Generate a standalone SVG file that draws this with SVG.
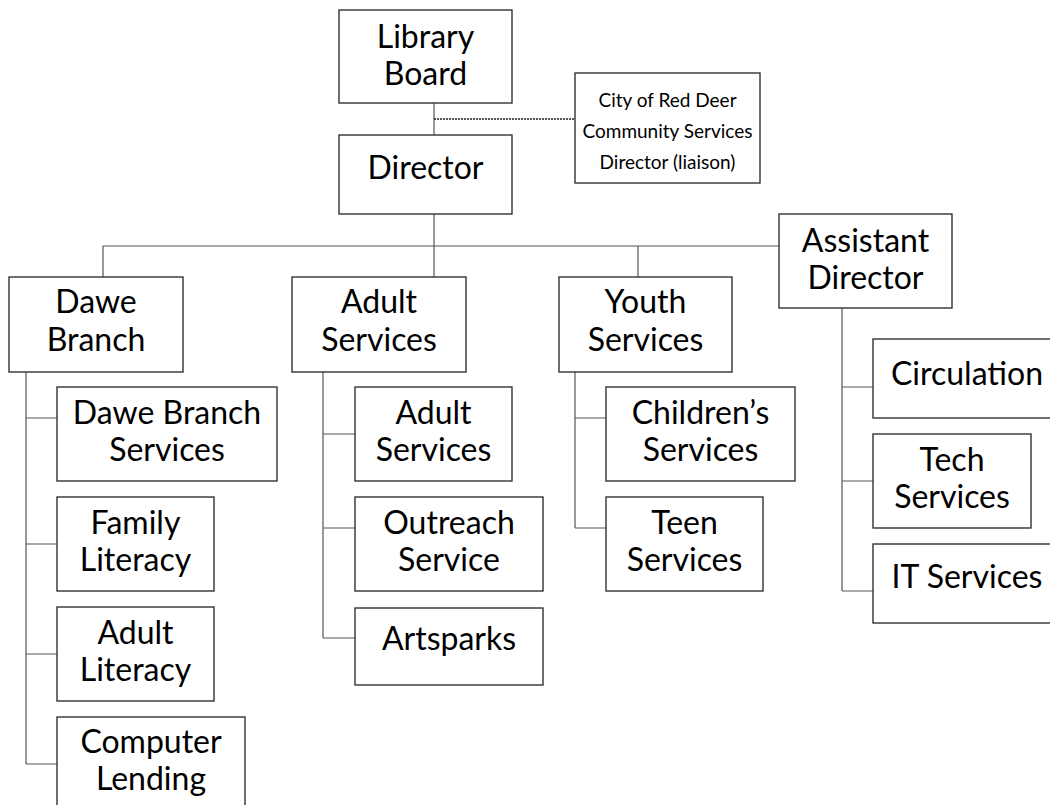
<svg xmlns="http://www.w3.org/2000/svg" width="1050" height="805" viewBox="0 0 1050 805">
<style>
.box{fill:#fff;stroke:#333;stroke-width:1.4}
.t{font-family:Lato,"Open Sans",sans-serif;font-size:32px;fill:#000;text-anchor:middle}
.s{font-family:Lato,"Open Sans",sans-serif;font-size:19px;fill:#000;text-anchor:middle}
.c{fill:none;stroke:#555;stroke-width:1.2}
.d{fill:none;stroke:#222;stroke-width:1.5;stroke-dasharray:2 1}
</style>
<rect width="1050" height="805" fill="#fff"/>
<g id="connectors">
<path class="c" d="M434 103V135M434 214V277M103 246H779M103 246V277M638 246V277"/>
<path class="d" d="M434 119H575"/>
<path class="c" d="M26 372V764M26 418H57M26 544H57M26 654H57M26 764H57"/>
<path class="c" d="M323 372V638M323 434H355M323 528H355M323 638H355"/>
<path class="c" d="M575 372V528M575 418H606M575 528H606"/>
<path class="c" d="M842 308V591M842 387H873M842 481H873M842 591H873"/>
</g>
<g id="library-board"><rect class="box" x="339" y="10" width="173" height="93"/><text class="t" x="425.5" y="48">Library</text><text class="t" x="425.5" y="85">Board</text></g>
<g id="city-liaison"><rect class="box" x="575" y="73" width="185" height="110"/><text class="s" x="667.5" y="107">City of Red Deer</text><text class="s" x="667.5" y="138">Community Services</text><text class="s" x="667.5" y="169">Director (liaison)</text></g>
<g id="director"><rect class="box" x="339" y="135" width="173" height="79"/><text class="t" x="425.5" y="179">Director</text></g>
<g id="dawe-branch"><rect class="box" x="9" y="277" width="174" height="95"/><text class="t" x="96" y="313">Dawe</text><text class="t" x="96" y="351">Branch</text></g>
<g id="adult-services"><rect class="box" x="292" y="277" width="174" height="95"/><text class="t" x="379" y="313">Adult</text><text class="t" x="379" y="351">Services</text></g>
<g id="youth-services"><rect class="box" x="559" y="277" width="173" height="95"/><text class="t" x="645.5" y="313">Youth</text><text class="t" x="645.5" y="351">Services</text></g>
<g id="assistant-director"><rect class="box" x="779" y="214" width="173" height="94"/><text class="t" x="865.5" y="252">Assistant</text><text class="t" x="865.5" y="289">Director</text></g>
<g id="dawe-branch-services"><rect class="box" x="57" y="387" width="220" height="94"/><text class="t" x="167" y="424">Dawe Branch</text><text class="t" x="167" y="461">Services</text></g>
<g id="family-literacy"><rect class="box" x="57" y="497" width="157" height="94"/><text class="t" x="135.5" y="534">Family</text><text class="t" x="135.5" y="571">Literacy</text></g>
<g id="adult-literacy"><rect class="box" x="57" y="607" width="157" height="94"/><text class="t" x="135.5" y="644">Adult</text><text class="t" x="135.5" y="681">Literacy</text></g>
<g id="computer-lending"><rect class="box" x="57" y="717" width="188" height="100"/><text class="t" x="151" y="753">Computer</text><text class="t" x="151" y="790">Lending</text></g>
<g id="adult-services-unit"><rect class="box" x="355" y="387" width="157" height="94"/><text class="t" x="433.5" y="424">Adult</text><text class="t" x="433.5" y="461">Services</text></g>
<g id="outreach-service"><rect class="box" x="355" y="497" width="188" height="94"/><text class="t" x="449" y="534">Outreach</text><text class="t" x="449" y="571">Service</text></g>
<g id="artsparks"><rect class="box" x="355" y="608" width="188" height="77"/><text class="t" x="449" y="650">Artsparks</text></g>
<g id="childrens-services"><rect class="box" x="606" y="387" width="189" height="94"/><text class="t" x="700.5" y="424">Children’s</text><text class="t" x="700.5" y="461">Services</text></g>
<g id="teen-services"><rect class="box" x="606" y="497" width="157" height="94"/><text class="t" x="684.5" y="534">Teen</text><text class="t" x="684.5" y="571">Services</text></g>
<g id="circulation"><rect class="box" x="873" y="339" width="188" height="79"/><text class="t" x="967" y="385">Circulation</text></g>
<g id="tech-services"><rect class="box" x="873" y="434" width="158" height="94"/><text class="t" x="952" y="471">Tech</text><text class="t" x="952" y="508">Services</text></g>
<g id="it-services"><rect class="box" x="873" y="544" width="188" height="79"/><text class="t" x="967" y="588">IT Services</text></g>
</svg>
